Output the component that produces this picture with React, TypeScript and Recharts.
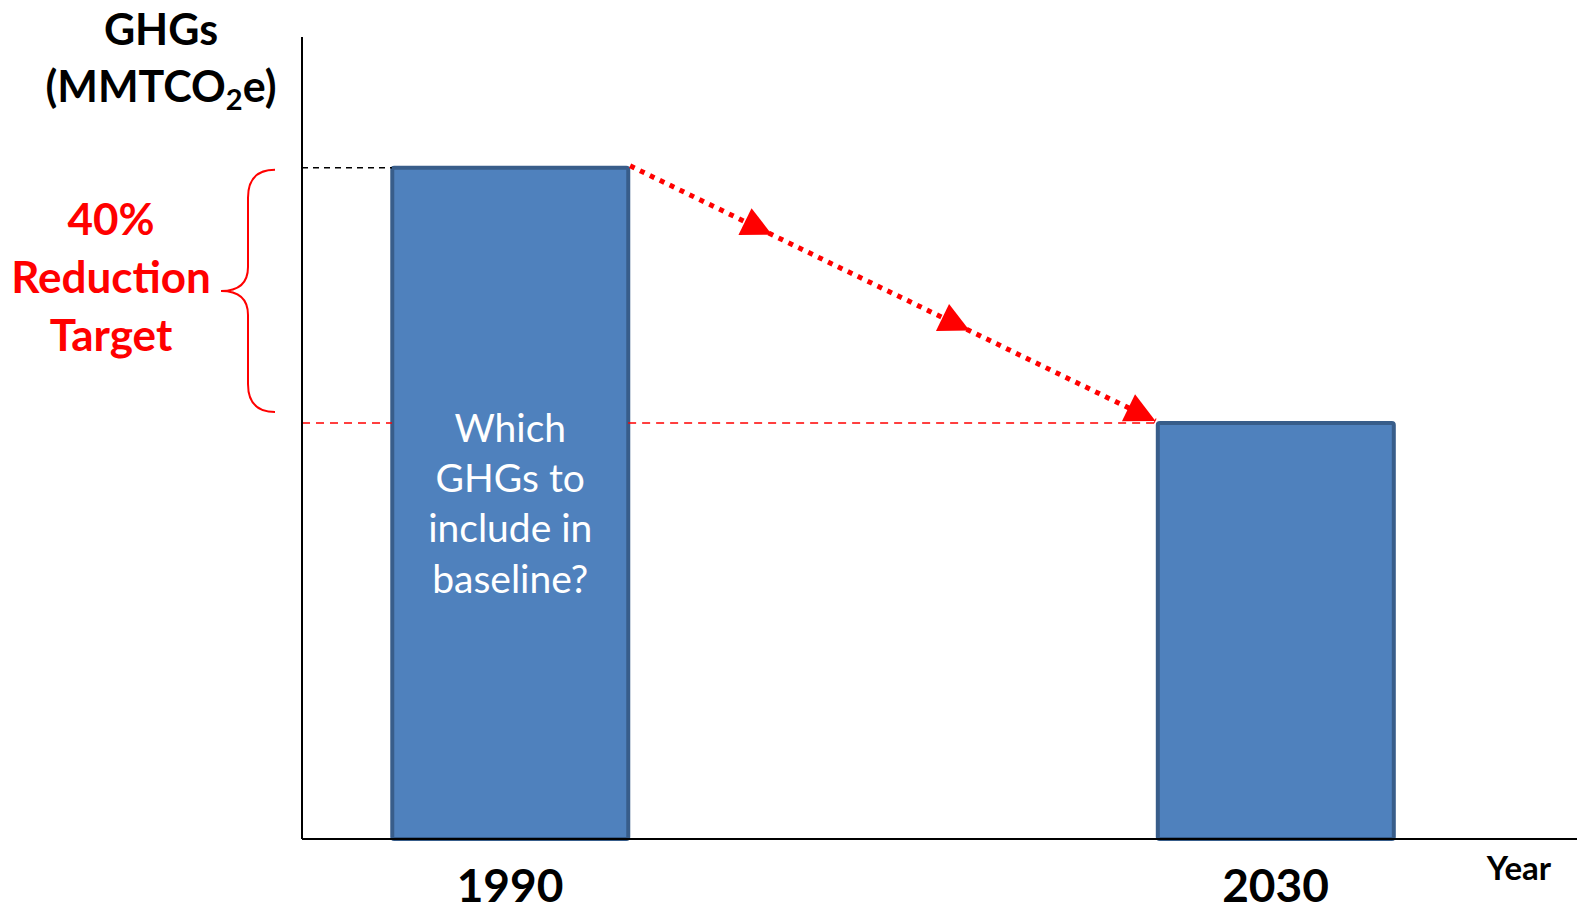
import React from 'react';
import { BarChart, Bar, XAxis, YAxis, ReferenceLine, LabelList } from 'recharts';

// values (1990 baseline = 100)
const YEARS = [1990, 2030];
const EMISSIONS = [100, 62];
const X_TICKS = [1990, 2030];
const BAR_TEXT = ['Which', 'GHGs to', 'include in', 'baseline?'];
const TARGET_TEXT = ['40%', 'Reduction', 'Target'];
const ARROW_TIPS = [0.27, 0.646, 1];

const X_DOMAIN = [1979.13, 2045.75];
const Y_DOMAIN = [0, 119.5];
const HALF_BAR_YEARS = 6.17;

const FONT = 'Lato, "Open Sans", sans-serif';
const BLUE = '#4F81BD';
const BLUE_EDGE = '#385D8A';
const RED = '#FF0000';

const data = YEARS.map((year, i) => ({ year, value: EMISSIONS[i] }));

function YearTick(props: any) {
    const { x, y, payload } = props;
    return (
        <text x={x} y={y + 61} textAnchor="middle" fontFamily={FONT} fontWeight={700} fontSize={46} fill="#000">
            {payload.value}
        </text>
    );
}

function BarText(props: any) {
    const { x, y, width, index } = props;
    if (index !== 0) return null;
    const cx = x + width / 2;
    return (
        <text textAnchor="middle" fontFamily={FONT} fontSize={39} fill="#fff">
            {BAR_TEXT.map((line, i) => (
                <tspan key={line} x={cx} y={y + 274 + i * 50.3}>
                    {line}
                </tspan>
            ))}
        </text>
    );
}

// dotted red path with arrowheads along it
function ArrowLine(props: any) {
    const { x1, y1, x2, y2 } = props;
    const sx = x1 + 2;
    const sy = y1 - 2;
    const ex = x2 - 2;
    const ey = y2 - 2;
    const dx = ex - sx;
    const dy = ey - sy;
    const len = Math.sqrt(dx * dx + dy * dy);
    const ux = dx / len;
    const uy = dy / len;
    const L = 30;
    const W = 15;
    return (
        <g>
            <line x1={sx} y1={sy} x2={ex} y2={ey} stroke={RED} strokeWidth={5} strokeDasharray="5 6" />
            {ARROW_TIPS.map((t) => {
                const tx = sx + dx * t;
                const ty = sy + dy * t;
                const bx = tx - ux * L;
                const by = ty - uy * L;
                const pts = [
                    [tx, ty],
                    [bx - uy * W, by + ux * W],
                    [bx + uy * W, by - ux * W],
                ]
                    .map((p) => p.join(','))
                    .join(' ');
                return <polygon key={t} points={pts} fill={RED} />;
            })}
        </g>
    );
}

// curly brace spanning the reduction
function Brace(props: any) {
    const { x1, y1, y2 } = props;
    const top = y1 + 2;
    const bot = y2 - 11;
    const mid = (top + bot) / 2;
    const end = x1 - 27;
    const spine = x1 - 54;
    const tip = x1 - 81;
    const d = [
        `M ${end} ${top}`,
        `Q ${spine} ${top} ${spine} ${top + 28}`,
        `L ${spine} ${mid - 24}`,
        `Q ${spine} ${mid} ${tip} ${mid}`,
        `Q ${spine} ${mid} ${spine} ${mid + 24}`,
        `L ${spine} ${bot - 28}`,
        `Q ${spine} ${bot} ${end} ${bot}`,
    ].join(' ');
    return <path d={d} fill="none" stroke={RED} strokeWidth={2} />;
}

export default function App() {
    const xMin = X_DOMAIN[0];
    const base = EMISSIONS[0];
    const target = EMISSIONS[1];
    return (
        <div style={{ position: 'absolute', left: 0, top: 0, width: 1577, height: 903, background: '#fff', overflow: 'hidden' }}>
            <BarChart width={1577} height={903} data={data} margin={{ top: 37, right: 0, bottom: 0, left: 301 }}>
                <XAxis
                    dataKey="year"
                    type="number"
                    domain={X_DOMAIN}
                    ticks={X_TICKS}
                    allowDataOverflow
                    interval={0}
                    height={64}
                    tickSize={0}
                    tickLine={false}
                    axisLine={{ stroke: '#000', strokeWidth: 2 }}
                    tick={<YearTick />}
                />
                <YAxis
                    type="number"
                    domain={Y_DOMAIN}
                    width={1}
                    tick={false}
                    tickLine={false}
                    axisLine={{ stroke: '#000', strokeWidth: 2 }}
                />
                <ReferenceLine
                    segment={[{ x: xMin, y: base }, { x: YEARS[0] - HALF_BAR_YEARS, y: base }]}
                    stroke="#000"
                    strokeWidth={1.5}
                    strokeDasharray="6 5"
                    ifOverflow="visible"
                />
                <ReferenceLine
                    segment={[{ x: xMin, y: target }, { x: YEARS[0] - HALF_BAR_YEARS, y: target }]}
                    stroke={RED}
                    strokeWidth={1.5}
                    strokeDasharray="8 6"
                    ifOverflow="visible"
                />
                <ReferenceLine
                    segment={[{ x: YEARS[0] + HALF_BAR_YEARS, y: target }, { x: YEARS[1] - HALF_BAR_YEARS, y: target }]}
                    stroke={RED}
                    strokeWidth={1.5}
                    strokeDasharray="8 6"
                    ifOverflow="visible"
                />
                <Bar
                    dataKey="value"
                    barSize={236}
                    fill={BLUE}
                    stroke={BLUE_EDGE}
                    strokeWidth={4}
                    radius={2}
                    isAnimationActive={false}
                >
                    <LabelList dataKey="value" content={<BarText />} />
                </Bar>
                <ReferenceLine
                    segment={[{ x: YEARS[0] + HALF_BAR_YEARS, y: base }, { x: YEARS[1] - HALF_BAR_YEARS, y: target }]}
                    shape={<ArrowLine />}
                    ifOverflow="visible"
                />
                <ReferenceLine
                    segment={[{ x: xMin, y: base }, { x: xMin, y: target }]}
                    shape={<Brace />}
                    ifOverflow="visible"
                />
            </BarChart>

            <div
                style={{
                    position: 'absolute',
                    left: 0,
                    top: 0,
                    width: 322,
                    textAlign: 'center',
                    fontFamily: FONT,
                    fontWeight: 700,
                    fontSize: 43,
                    lineHeight: '57px',
                    color: '#000',
                }}
            >
                <div>GHGs</div>
                <div>
                    (MMTCO<sub style={{ fontSize: 29, verticalAlign: -8, lineHeight: 0 }}>2</sub>e)
                </div>
            </div>

            <div
                style={{
                    position: 'absolute',
                    left: 0,
                    top: 189,
                    width: 222,
                    textAlign: 'center',
                    fontFamily: FONT,
                    fontWeight: 700,
                    fontSize: 44,
                    lineHeight: '58px',
                    color: RED,
                }}
            >
                {TARGET_TEXT.map((t) => (
                    <div key={t}>{t}</div>
                ))}
            </div>

            <div
                style={{
                    position: 'absolute',
                    left: 1474,
                    top: 849,
                    width: 90,
                    textAlign: 'center',
                    fontFamily: FONT,
                    fontWeight: 700,
                    fontSize: 33,
                    lineHeight: '36px',
                    color: '#000',
                }}
            >
                Year
            </div>
        </div>
    );
}
